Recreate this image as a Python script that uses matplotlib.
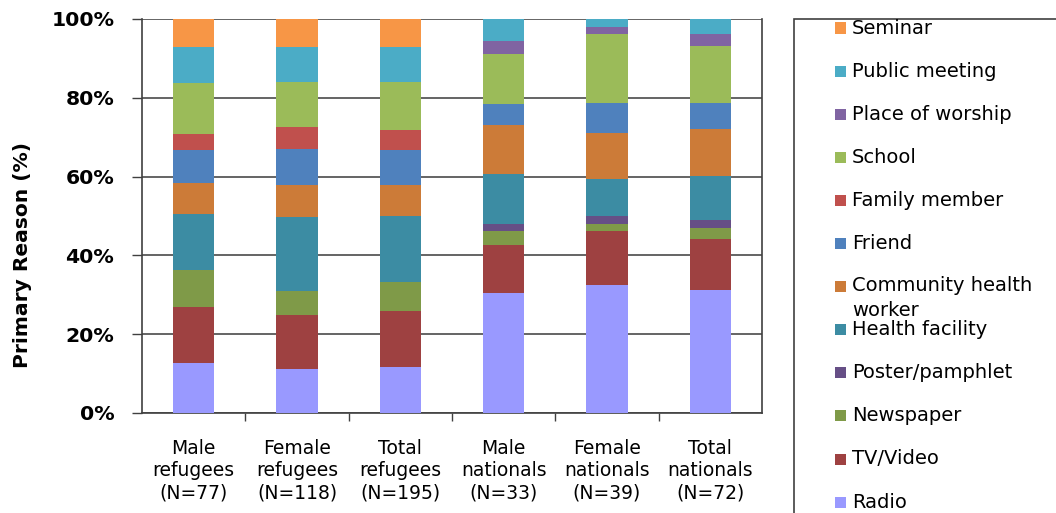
import matplotlib
matplotlib.use("Agg")
import matplotlib.pyplot as plt
from matplotlib.patches import Rectangle
import numpy as np

W, H = 1056, 513

groups = ["Male\nrefugees\n(N=77)", "Female\nrefugees\n(N=118)", "Total\nrefugees\n(N=195)",
          "Male\nnationals\n(N=33)", "Female\nnationals\n(N=39)", "Total\nnationals\n(N=72)"]

# Share of respondents (%) per information source, stacked bottom to top
radio = [12.6, 11.1, 11.7, 30.4, 32.6, 31.3]
tv_video = [14.3, 13.9, 14.2, 12.2, 13.6, 12.9]
newspaper = [9.5, 6.0, 7.3, 3.6, 1.8, 2.8]
poster = [0.0, 0.0, 0.0, 1.8, 2.0, 2.0]
health_facility = [14.2, 18.7, 16.8, 12.7, 9.4, 11.2]
chw = [7.8, 8.2, 7.9, 12.3, 11.7, 11.9]
friend = [8.4, 9.1, 8.9, 5.4, 7.7, 6.7]
family_member = [4.0, 5.7, 5.0, 0.0, 0.0, 0.0]
school = [13.0, 11.4, 12.3, 12.6, 17.3, 14.4]
worship = [0.0, 0.0, 0.0, 3.5, 1.9, 3.0]
public_meeting = [9.2, 8.9, 8.9, 5.5, 2.0, 3.8]
seminar = [7.0, 7.0, 7.0, 0.0, 0.0, 0.0]

series_names = ["Radio", "TV/Video", "Newspaper", "Poster/pamphlet", "Health facility",
                "Community health\nworker", "Friend", "Family member", "School",
                "Place of worship", "Public meeting", "Seminar"]
series_values = [radio, tv_video, newspaper, poster, health_facility, chw, friend,
                 family_member, school, worship, public_meeting, seminar]
series_colors = ["#9999FF", "#9E4141", "#7F9A48", "#664F86", "#3C8CA3", "#CC7B38",
                 "#4F81BD", "#C0504D", "#9BBB59", "#8064A2", "#4BACC6", "#F79646"]

plt.rcParams["font.family"] = "DejaVu Sans"

fig = plt.figure(figsize=(W / 100, H / 100), dpi=100)
ax = fig.add_axes([142 / W, 1 - 413 / H, (762 - 142) / W, (413 - 19) / H])

x = np.arange(len(groups))
bottom = np.zeros(len(groups))
for name, vals, col in zip(series_names, series_values, series_colors):
    vals = np.asarray(vals, dtype=float)
    ax.bar(x, vals, width=0.4, bottom=bottom, color=col, edgecolor="none", zorder=3)
    bottom += vals

ax.set_xlim(-0.5, len(groups) - 0.5)
ax.set_ylim(0, 100)
ax.set_yticks(np.arange(0, 101, 20))
ax.set_yticklabels([f"{v}%" for v in range(0, 101, 20)], fontsize=14.7, fontweight="bold")
ax.tick_params(axis="y", length=7, width=1, color="#404040", pad=13)

ax.set_xticks(x)
ax.set_xticklabels(groups, fontsize=13.5, linespacing=1.2)
ax.tick_params(axis="x", which="major", length=0, pad=19)
ax.set_xticks(np.arange(0.5, len(groups) - 0.5, 1), minor=True)
ax.tick_params(axis="x", which="minor", length=6, width=1, color="#404040")

ax.yaxis.grid(True, color="#4a4a4a", linewidth=1.2, zorder=0)
ax.set_axisbelow(True)
for side in ["left", "bottom", "right"]:
    ax.spines[side].set_color("#404040")
    ax.spines[side].set_linewidth(1.2)
ax.spines["top"].set_visible(False)

ax.set_ylabel("Primary Reason (%)", fontsize=14.6, fontweight="bold")
ax.yaxis.set_label_coords(-0.178, 0.40)

# Legend panel (top entry is the last stacked series)
fig.add_artist(Rectangle((794 / W, -0.1), 0.5, 1 - 18.5 / H + 0.1, transform=fig.transFigure,
                         facecolor="white", edgecolor="#404040", linewidth=1.2))
y0, step = 28, 43.1
for i, (name, col) in enumerate(zip(series_names[::-1], series_colors[::-1])):
    yc = y0 + i * step
    fig.add_artist(Rectangle((835 / W, 1 - (yc + 5.5) / H), 11 / W, 11 / H,
                             transform=fig.transFigure, facecolor=col, edgecolor="none"))
    if "\n" in name:
        fig.text(852 / W, 1 - (yc - 10.5) / H, name, fontsize=14, va="top", ha="left",
                 linespacing=1.4)
    else:
        fig.text(852 / W, 1 - yc / H, name, fontsize=14, va="center", ha="left")

fig.savefig("out.png", dpi=100)
